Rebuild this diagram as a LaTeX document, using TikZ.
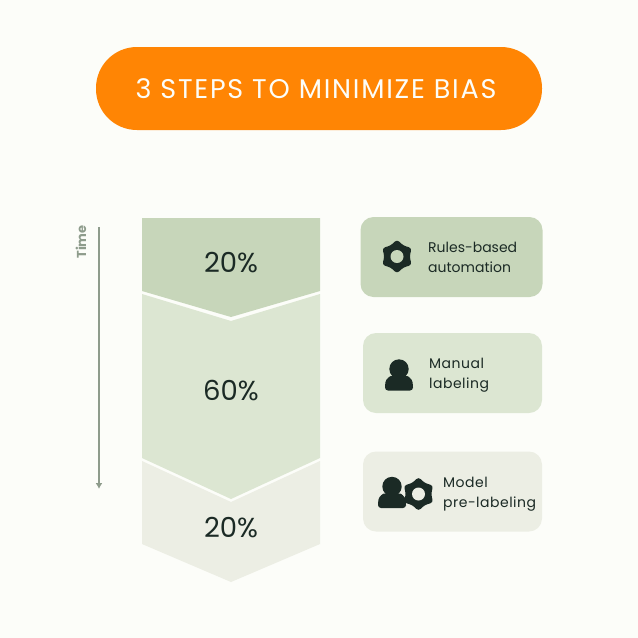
\documentclass[tikz,border=0pt]{standalone}
\usepackage{fontspec}
\setmainfont{Poppins}
\definecolor{pagebg}{HTML}{FCFDF9}
\definecolor{bannerorange}{HTML}{FF8504}
\definecolor{greendark}{HTML}{C7D6BA}
\definecolor{greenmid}{HTML}{DCE6D2}
\definecolor{greenpale}{HTML}{ECEEE4}
\definecolor{inkdark}{HTML}{1B2A25}
\definecolor{timegray}{HTML}{8E9C8C}
\usetikzlibrary{arrows.meta}
\tikzset{
    cardbox/.style={rounded corners=13pt, minimum width=179pt, minimum height=80pt, inner sep=0pt},
    cardtext/.style={text=inkdark, font=\fontsize{14}{20}\selectfont, align=left, anchor=west, inner sep=0pt},
    widetext/.style={cardtext, font=\fontsize{14}{20}\selectfont\addfontfeature{LetterSpace=3.5}},
    pct/.style={text=inkdark, font=\fontsize{27.5}{30}\selectfont, inner sep=0pt},
    gearicon/.pic={
        \fill[inkdark, rounded corners=3pt]
            (90:17) -- (120:12.6) -- (150:17) -- (180:12.6) -- (210:17) -- (240:12.6)
            -- (270:17) -- (300:12.6) -- (330:17) -- (0:12.6) -- (30:17) -- (60:12.6) -- cycle;
        \fill[fill=\gearhole] (0,0) circle (6.5);
    },
    personicon/.pic={
        \fill[inkdark] (0,-6) circle (9.7);
        \fill[inkdark, rounded corners=3pt] (-14,15.5) -- (-14,10) .. controls (-13,4) and (-9,1) .. (-5,1)
            -- (5,1) .. controls (9,1) and (13,4) .. (14,10) -- (14,15.5) -- cycle;
    },
}
\newcommand{\gearhole}{greendark}
\begin{document}
\begin{tikzpicture}[x=1pt, y=-1pt]
    \useasboundingbox (0,0) rectangle (638,638);
    \fill[pagebg] (0,0) rectangle (638,638);
    % banner
    \node (banner) at (319,88.5) [fill=bannerorange, rounded corners=41pt, minimum width=446pt, minimum height=83pt, inner sep=0pt] {};
    \node (bannertext) at (316,88.5) [text=pagebg, font=\fontsize{27}{30}\selectfont\addfontfeature{LetterSpace=6.5}, inner sep=0pt]
        {3 STEPS TO MINIMIZE BIAS};
    % chevrons
    \fill[greendark] (142,218) -- (320,218) -- (320,291) -- (231,317) -- (142,291) -- cycle;
    \fill[greenmid] (142,294) -- (231,321) -- (320,294) -- (320,458) -- (231,499) -- (142,458) -- cycle;
    \fill[greenpale] (142,461) -- (231,502) -- (320,461) -- (320,544) -- (231,582) -- (142,544) -- cycle;
    \node[pct] (pcttop) at (231,263) {20\%};
    \node[pct] (pctmid) at (231,391) {60\%};
    \node[pct] (pctlow) at (231,528) {20\%};
    % time arrow
    \coordinate (timestart) at (99,227);
    \coordinate (timeend) at (99,489);
    \draw[timegray, line width=2pt, -{Latex[length=6pt,width=7pt]}] (timestart) -- (timeend);
    \node[rotate=90, text=timegray, font=\fontsize{13}{15}\selectfont\bfseries, inner sep=0pt] (timelabel) at (81,242) {Time};
    % cards
    \node[cardbox, fill=greendark, minimum width=182pt] (rulescard) at (451.5,257) {};
    \renewcommand{\gearhole}{greendark}
    \pic at (397,256.5) {gearicon};
    \node[cardtext] (rulestext) at (428,257) {Rules-based\\automation};
    \node[cardbox, fill=greenmid] (manualcard) at (452.5,373) {};
    \pic at (399,375) {personicon};
    \node[widetext] (manualtext) at (429,375) {Manual\\labeling};
    \node[cardbox, fill=greenpale] (modelcard) at (452.5,491.5) {};
    \pic at (392,492.5) {personicon};
    \renewcommand{\gearhole}{greenpale}
    \pic at (418.5,494) {gearicon};
    \node[widetext] (modeltext) at (443,494) {Model\\pre-labeling};
\end{tikzpicture}
\end{document}
